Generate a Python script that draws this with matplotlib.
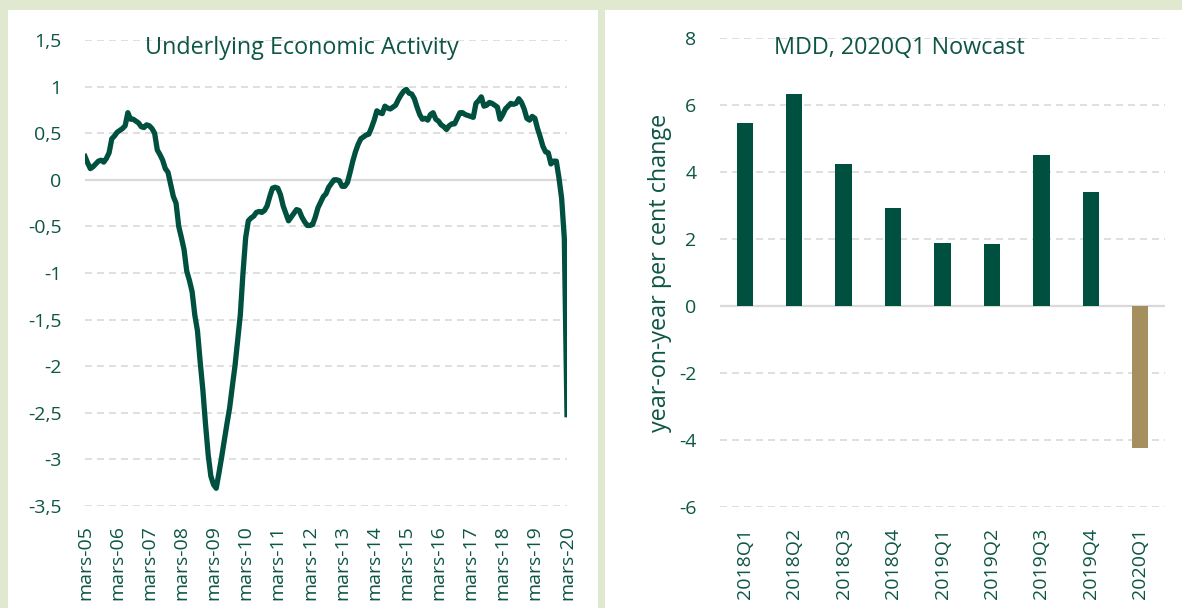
import matplotlib
matplotlib.use('Agg')
import matplotlib.pyplot as plt
from matplotlib.patches import Rectangle
import numpy as np

plt.rcParams['font.family'] = ['Open Sans', 'DejaVu Sans']

# monthly index, mars-05 .. mars-20
activity = [
    0.25, 0.18, 0.12, 0.14, 0.17, 0.20, 0.21, 0.19, 0.23, 0.29,
    0.44, 0.47, 0.51, 0.53, 0.55, 0.58, 0.72, 0.65, 0.65, 0.63, 0.61, 0.57,
    0.56, 0.59, 0.58, 0.55, 0.50, 0.32, 0.27, 0.21, 0.12, 0.08, -0.05, -0.18,
    -0.25, -0.50, -0.62, -0.75, -0.98, -1.08, -1.20, -1.45, -1.62, -1.95, -2.25, -2.62,
    -2.95, -3.18, -3.27, -3.31, -3.15, -2.98, -2.80, -2.62, -2.45, -2.22, -2.00, -1.72,
    -1.45, -1.00, -0.62, -0.44, -0.41, -0.39, -0.35, -0.34, -0.35, -0.33, -0.28, -0.18,
    -0.09, -0.08, -0.09, -0.16, -0.28, -0.36, -0.44, -0.40, -0.36, -0.32, -0.33, -0.40,
    -0.45, -0.49, -0.49, -0.48, -0.40, -0.30, -0.24, -0.18, -0.15, -0.08, -0.04, 0.00,
    0.00, -0.01, -0.07, -0.07, -0.03, 0.08, 0.20, 0.30, 0.38, 0.44, 0.46, 0.48,
    0.49, 0.56, 0.64, 0.74, 0.72, 0.71, 0.79, 0.77, 0.76, 0.78, 0.80, 0.86,
    0.91, 0.95, 0.97, 0.93, 0.92, 0.87, 0.78, 0.70, 0.65, 0.66, 0.64, 0.70,
    0.72, 0.65, 0.63, 0.59, 0.57, 0.54, 0.58, 0.60, 0.60, 0.66, 0.72, 0.72,
    0.70, 0.69, 0.68, 0.67, 0.82, 0.85, 0.89, 0.79, 0.80, 0.83, 0.82, 0.80,
    0.78, 0.65, 0.70, 0.76, 0.79, 0.82, 0.81, 0.82, 0.87, 0.83, 0.76, 0.66,
    0.64, 0.68, 0.66, 0.55, 0.46, 0.36, 0.30, 0.29, 0.17, 0.20, 0.20, 0.02,
    -0.20, -0.63, -2.52,
]
years = ['05', '06', '07', '08', '09', '10', '11', '12', '13', '14',
         '15', '16', '17', '18', '19', '20']
month_labels = ['mars-' + y for y in years]
left_ticks = [1.5, 1, 0.5, 0, -0.5, -1, -1.5, -2, -2.5, -3, -3.5]

quarters = ['2018Q1', '2018Q2', '2018Q3', '2018Q4', '2019Q1',
            '2019Q2', '2019Q3', '2019Q4', '2020Q1']
mdd = [5.46, 6.33, 4.24, 2.93, 1.88, 1.85, 4.51, 3.40, -4.25]
right_ticks = [8, 6, 4, 2, 0, -2, -4, -6]

dark = '#00503f'
khaki = '#a58f5e'
text_c = '#0d5544'
grid_c = '#d9d9d9'
bg = '#e0e9cf'

fig = plt.figure(figsize=(11.82, 6.08), dpi=100, facecolor=bg)
W, H = 1182, 608
# white panels behind the two charts
fig.add_artist(Rectangle((8 / W, 0), 590 / W, 1 - 10 / H, transform=fig.transFigure,
                         facecolor='white', edgecolor='none', zorder=-5))
fig.add_artist(Rectangle((605 / W, 0), 577 / W, 1 - 10 / H, transform=fig.transFigure,
                         facecolor='white', edgecolor='none', zorder=-5))


def style(ax, ticks):
    ax.set_facecolor('none')
    for s in ax.spines.values():
        s.set_visible(False)
    ax.set_yticks(ticks)
    for t in ticks:
        if t == 0:
            ax.axhline(0, color=grid_c, lw=1.6, zorder=1)
        else:
            ax.axhline(t, color=grid_c, lw=1.2, ls=(0, (4.2, 3.0)), zorder=1)
    ax.tick_params(length=0, colors=text_c, labelsize=14)


ax1 = fig.add_axes([85 / W, 1 - 506 / H, 482 / W, 466 / H])
style(ax1, left_ticks)
x = np.arange(len(activity))
ax1.plot(x, activity, color=dark, lw=3.8, solid_joinstyle='round', zorder=3)
ax1.set_xlim(0, 180)
ax1.set_ylim(-3.5, 1.5)
ax1.set_yticklabels([f'{t:g}'.replace('.', ',') for t in left_ticks])
ax1.set_xticks(np.arange(0, 181, 12))
ax1.set_xticklabels(month_labels, rotation=90)
ax1.tick_params(axis='y', pad=17)
ax1.tick_params(axis='x', pad=14)
ax1.text(0.45, 0.983, 'Underlying Economic Activity', transform=ax1.transAxes,
         ha='center', va='center', color=text_c, fontsize=16.8)

ax2 = fig.add_axes([720 / W, 1 - 507 / H, 445 / W, 469 / H])
style(ax2, right_ticks)
xb = np.arange(len(quarters))
ax2.bar(xb, mdd, width=0.33, color=[dark] * 8 + [khaki], zorder=3)
ax2.set_xlim(-0.5, len(quarters) - 0.5)
ax2.set_ylim(-6, 8)
ax2.set_yticklabels([str(t) for t in right_ticks])
ax2.set_xticks(xb)
ax2.set_xticklabels(quarters, rotation=90)
ax2.tick_params(axis='y', pad=17)
ax2.tick_params(axis='x', pad=15)
ax2.set_ylabel('year-on-year per cent change', color=text_c, fontsize=16.8, labelpad=5)
ax2.text(0.404, 0.979, 'MDD, 2020Q1 Nowcast', transform=ax2.transAxes,
         ha='center', va='center', color=text_c, fontsize=16.8)

fig.savefig('out.png', dpi=100, facecolor=bg)
